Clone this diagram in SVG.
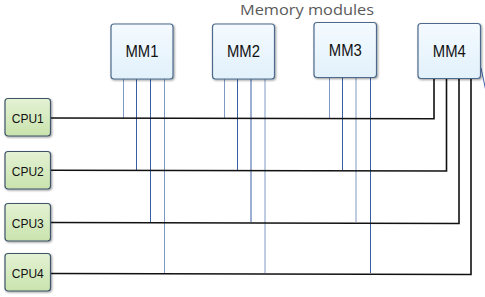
<svg xmlns="http://www.w3.org/2000/svg" width="485" height="297" viewBox="0 0 485 297">
<defs>
<linearGradient id="gmm" x1="0" y1="0" x2="0" y2="1">
<stop offset="0" stop-color="#f4faff"/><stop offset="1" stop-color="#e2f1fb"/>
</linearGradient>
<linearGradient id="gcpu" x1="0" y1="0" x2="0" y2="1">
<stop offset="0" stop-color="#e4f2d4"/><stop offset="1" stop-color="#c9e3ad"/>
</linearGradient>
<filter id="sh" x="-10%" y="-10%" width="130%" height="130%">
<feDropShadow dx="1" dy="1" stdDeviation="0.8" flood-color="#000" flood-opacity="0.4"/>
</filter>
</defs>
<style>
.mm rect{fill:url(#gmm);stroke:#4d6b8c;stroke-width:1.2;filter:url(#sh)}
.cpu rect{fill:url(#gcpu);stroke:#3f5569;stroke-width:1.2;filter:url(#sh)}
.mm text{font-family:"Liberation Sans","DejaVu Sans",sans-serif;font-size:16px;fill:#111;text-anchor:middle}
.cpu text{font-family:"Liberation Sans","DejaVu Sans",sans-serif;font-size:13.5px;fill:#111;text-anchor:middle}
.b{stroke:#3a5ea6;stroke-width:1;fill:none}
.bl{stroke:#7f98c4;stroke-width:1;fill:none}
.k{stroke:#111;stroke-width:1.6;fill:none}
.title{font-family:"Open Sans","Liberation Sans",sans-serif;font-size:15px;fill:#5a5a5a}
</style>
<text class="title" x="240" y="15" textLength="134" lengthAdjust="spacingAndGlyphs">Memory modules</text>
<g id="connectors">
<path class="bl" d="M123.5 79V118"/>
<path class="b" d="M136.5 79V170"/>
<path class="b" d="M150.5 79V222"/>
<path class="bl" d="M164.5 79V273"/>
<path class="bl" d="M224.5 79V118"/>
<path class="b" d="M237.5 79V170"/>
<path class="b" d="M251 79V222"/>
<path class="bl" d="M265 79V273"/>
<path class="bl" d="M329.5 78V118"/>
<path class="b" d="M342.5 78V170"/>
<path class="bl" d="M356 78V222"/>
<path class="b" d="M370.5 78V273"/>
<path class="k" d="M51 118L434 118.7V79"/>
<path class="k" d="M51 170.3L446.5 171V79"/>
<path class="k" d="M51 222.5L459 223.5V79"/>
<path class="k" d="M51 273.5L471 274.5V79"/>
<path class="b" d="M481 68L487 96"/>
</g>
<g id="MM1" class="mm"><rect x="111" y="24" width="62" height="55" rx="3"/><text x="142" y="57" textLength="33" lengthAdjust="spacingAndGlyphs">MM1</text></g>
<g id="MM2" class="mm"><rect x="212.5" y="24" width="62" height="55" rx="3"/><text x="243.5" y="57" textLength="33" lengthAdjust="spacingAndGlyphs">MM2</text></g>
<g id="MM3" class="mm"><rect x="314" y="22.5" width="62.5" height="55" rx="3"/><text x="345.3" y="56" textLength="33" lengthAdjust="spacingAndGlyphs">MM3</text></g>
<g id="MM4" class="mm"><rect x="418" y="23.5" width="62.5" height="55" rx="3"/><text x="449.3" y="57" textLength="33" lengthAdjust="spacingAndGlyphs">MM4</text></g>
<g id="CPU1" class="cpu"><rect x="5" y="98.5" width="45.5" height="37.5" rx="3"/><text x="27.8" y="122.5" textLength="32" lengthAdjust="spacingAndGlyphs">CPU1</text></g>
<g id="CPU2" class="cpu"><rect x="5" y="151.5" width="45.5" height="37.5" rx="3"/><text x="27.8" y="175.5" textLength="32" lengthAdjust="spacingAndGlyphs">CPU2</text></g>
<g id="CPU3" class="cpu"><rect x="5" y="203.5" width="45.5" height="37.5" rx="3"/><text x="27.8" y="227.5" textLength="32" lengthAdjust="spacingAndGlyphs">CPU3</text></g>
<g id="CPU4" class="cpu"><rect x="5" y="253.5" width="45.5" height="37.5" rx="3"/><text x="27.8" y="277.5" textLength="32" lengthAdjust="spacingAndGlyphs">CPU4</text></g>
</svg>
